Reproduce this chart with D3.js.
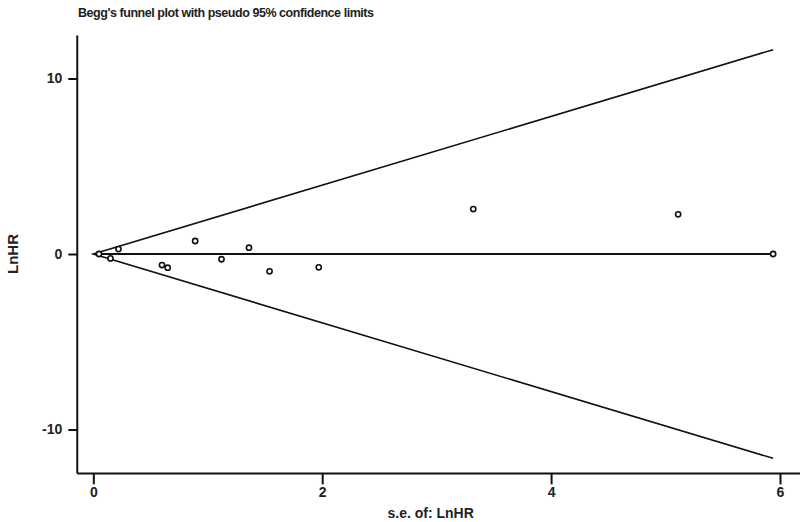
<!DOCTYPE html>
<html>
<head>
  <meta charset="utf-8">
  <style type="text/css">
  body {
    margin: 0;
    background: #fff;
    font-family: "Liberation Sans", Arial, sans-serif;
  }
  .axis path {
    stroke: #111;
    stroke-width: 2px;
  }
  .axis line {
    stroke: #111;
    stroke-width: 2px;
  }
  .axis text {
    font-size: 14px;
    font-weight: bold;
    fill: #222;
  }
  .funnel {
    fill: none;
    stroke: #111;
    stroke-width: 1.6px;
  }
  .null-line {
    stroke: #111;
    stroke-width: 2px;
  }
  .study {
    fill: #fff;
    stroke: #111;
    stroke-width: 1.6px;
  }
  .title, .label {
    font-weight: bold;
    fill: #222;
  }
  </style>
</head>
<body>
  <script src="https://d3js.org/d3.v7.min.js"></script>
  <script>
    // standard errors and log hazard ratios
    var se   = [0.05, 0.15, 0.22, 0.60, 0.65, 0.89, 1.12, 1.36, 1.54, 1.97, 3.32, 5.11, 5.94];
    var lnhr = [0.00, -0.25, 0.28, -0.63, -0.78, 0.74, -0.30, 0.36, -0.99, -0.76, 2.56, 2.26, 0.00];
    var xTicks = [0, 2, 4, 6];
    var yTicks = [-10, 0, 10];

    var title = "Begg's funnel plot with pseudo 95% confidence limits";
    var xLabel = "s.e. of: LnHR";
    var yLabel = "LnHR";

    var W = 800, H = 522;
    var xExtent = [-0.14, 6.2];
    var yExtent = [-12.5, 12.45];

    var x = d3.scaleLinear().domain([0, 6]).range([93.3, 780]);
    var y = d3.scaleLinear().domain([-10, 10]).range([429.5, 78.5]);

    var svg = d3.select("body").append("svg")
        .attr("width", W)
        .attr("height", H);

    // plain hyphen minus, no decimals
    var fmt = function(d) { return String(d); };

    var xAxis = d3.axisBottom(x)
        .tickValues(xTicks)
        .tickFormat(fmt)
        .tickSize(11)
        .tickSizeOuter(0)
        .tickPadding(3);
    var yAxis = d3.axisLeft(y)
        .tickValues(yTicks)
        .tickFormat(fmt)
        .tickSize(9)
        .tickSizeOuter(0)
        .tickPadding(6);

    var gx = svg.append("g")
        .attr("class", "x axis")
        .attr("transform", "translate(0," + y(yExtent[0]) + ")")
        .call(xAxis);
    gx.select(".domain").attr("d", "M" + x(xExtent[0]) + ",0H" + x(xExtent[1]));

    var gy = svg.append("g")
        .attr("class", "y axis")
        .attr("transform", "translate(" + x(xExtent[0]) + ",0)")
        .call(yAxis);
    gy.select(".domain").attr("d", "M0," + y(yExtent[1]) + "V" + y(yExtent[0]));

    // pseudo 95% limits: +/- 1.96 * se, from se = 0 to the largest se
    var seMax = d3.max(se);
    var line = d3.line()
        .x(function(d) { return x(d[0]); })
        .y(function(d) { return y(d[1]); });
    svg.append("path")
        .attr("class", "funnel")
        .attr("d", line([[seMax, 1.96 * seMax], [0, 0], [seMax, -1.96 * seMax]]));
    svg.append("line")
        .attr("class", "null-line")
        .attr("x1", x(0)).attr("x2", x(seMax))
        .attr("y1", y(0)).attr("y2", y(0));

    svg.selectAll(".study")
        .data(se)
      .enter()
        .append("circle")
        .attr("class", "study")
        .attr("cx", function(d) { return x(d); })
        .attr("cy", function(d, i) { return y(lnhr[i]); })
        .attr("r", 2.6);

    svg.append("text")
        .attr("class", "title")
        .attr("x", 78)
        .attr("y", 17)
        .style("font-size", "12.5px")
        .style("letter-spacing", "-0.45px")
        .text(title);

    svg.append("text")
        .attr("class", "label")
        .attr("x", x(3) - 6)
        .attr("y", 518)
        .attr("text-anchor", "middle")
        .style("font-size", "14px")
        .text(xLabel);

    svg.append("text")
        .attr("class", "label")
        .attr("transform", "translate(18," + y(0) + ") rotate(-90)")
        .attr("text-anchor", "middle")
        .style("font-size", "15px")
        .text(yLabel);
  </script>
</body>
</html>
